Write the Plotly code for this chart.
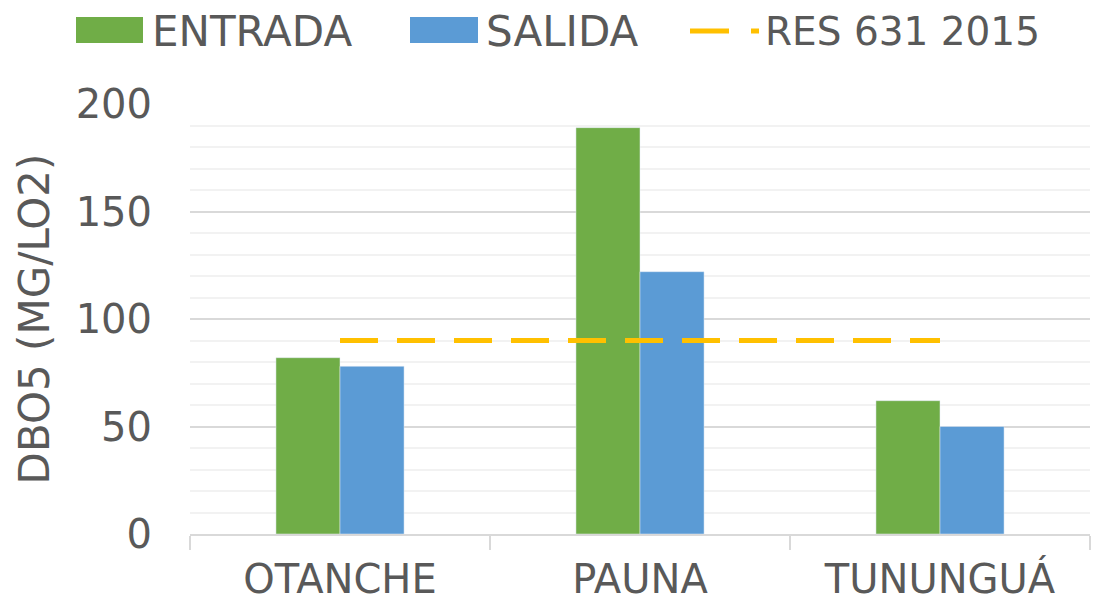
import plotly.graph_objects as go

categories = ["OTANCHE", "PAUNA", "TUNUNGUÁ"]
entrada = [82, 189, 62]
salida = [78, 122, 50]
res631 = [90, 90, 90]

FONT = "DejaVu Sans"
TXT = "#595959"
GREEN = "#70AD47"
BLUE = "#5B9BD5"
GOLD = "#FFC000"

L, R, T, B = 190, 4, 104, 72
W, H = 1094, 606
PW, PH = W - L - R, H - T - B

def px(x):
    return (x - L) / PW

def py(y):
    return (H - B - y) / PH

fig = go.Figure()
fig.add_trace(go.Bar(name="ENTRADA", x=categories, y=entrada, marker_color=GREEN, showlegend=False))
fig.add_trace(go.Bar(name="SALIDA", x=categories, y=salida, marker_color=BLUE, showlegend=False))
fig.add_trace(go.Scatter(name="RES 631 2015", x=categories, y=res631, mode="lines", showlegend=False,
                         line=dict(color=GOLD, width=5, dash="38px,19px")))

# manual legend
shapes = [
    dict(type="rect", xref="paper", yref="paper", x0=px(76), x1=px(143), y0=py(43), y1=py(17),
         fillcolor=GREEN, line=dict(width=0)),
    dict(type="rect", xref="paper", yref="paper", x0=px(410), x1=px(478), y0=py(43), y1=py(17),
         fillcolor=BLUE, line=dict(width=0)),
    dict(type="line", xref="paper", yref="paper", x0=px(690), x1=px(729), y0=py(31), y1=py(31),
         line=dict(color=GOLD, width=5)),
    dict(type="line", xref="paper", yref="paper", x0=px(751), x1=px(759), y0=py(31), y1=py(31),
         line=dict(color=GOLD, width=5)),
]
annotations = [
    dict(text="ENTRADA", x=px(150), y=py(31), xref="paper", yref="paper", xanchor="left",
         yanchor="middle", showarrow=False, font=dict(size=42, color=TXT, family=FONT)),
    dict(text="SALIDA", x=px(484), y=py(31), xref="paper", yref="paper", xanchor="left",
         yanchor="middle", showarrow=False, font=dict(size=42, color=TXT, family=FONT)),
    dict(text="RES 631 2015", x=px(763), y=py(31), xref="paper", yref="paper", xanchor="left",
         yanchor="middle", showarrow=False, font=dict(size=39, color=TXT, family=FONT)),
]

fig.update_layout(
    width=W, height=H,
    margin=dict(l=L, r=R, t=T, b=B, autoexpand=False),
    paper_bgcolor="white", plot_bgcolor="white",
    barmode="group", bargap=0.573, bargroupgap=0,
    font=dict(family=FONT, color=TXT, size=40),
    showlegend=False,
    shapes=shapes, annotations=annotations,
)
fig.update_xaxes(type="category", showgrid=False, showline=True, linecolor="#d9d9d9", linewidth=2,
                 ticks="outside", tickson="boundaries", ticklen=14, tickcolor="#d9d9d9", tickwidth=2,
                 ticklabelstandoff=9,
                 tickfont=dict(size=40, color=TXT))
fig.update_yaxes(range=[0, 200], dtick=50, showgrid=True, gridcolor="#d9d9d9", gridwidth=2,
                 minor=dict(dtick=10, showgrid=True, gridcolor="#f2f2f2", gridwidth=2),
                 zeroline=False, showline=False, tickfont=dict(size=40, color=TXT),
                 ticklabelstandoff=37,
                 title=dict(text="DBO5 (MG/LO2)", font=dict(size=42, color=TXT), standoff=12))

fig.write_html("out.html", config={"displayModeBar": False},
               post_script="document.body.style.margin='0';document.body.style.overflow='hidden';")
